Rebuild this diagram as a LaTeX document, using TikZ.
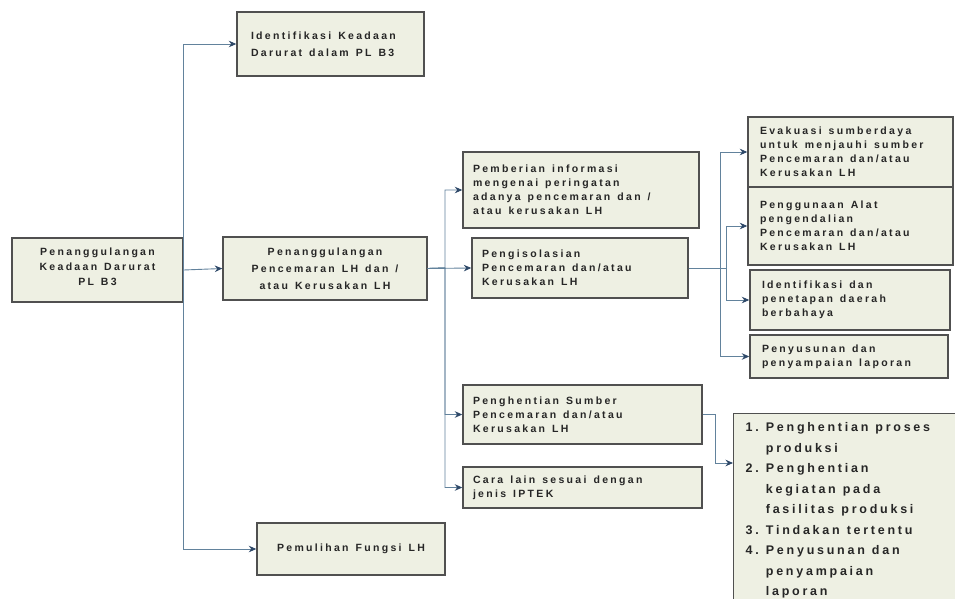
\documentclass[tikz,border=0pt]{standalone}
\usepackage{fontspec}
\setmainfont{Liberation Sans}
\newfontfamily\hurufkotak[LetterSpace=22]{Liberation Sans}
\newfontfamily\hurufdaftar[LetterSpace=22]{Liberation Sans}
\usetikzlibrary{arrows.meta}
\definecolor{isikotak}{HTML}{EEF0E3}
\definecolor{garikotak}{HTML}{505050}
\definecolor{garipanah}{HTML}{62829C}
\definecolor{ujungpanah}{HTML}{2E4868}
\tikzset{
  kotak/.style={draw=garikotak, line width=1.4pt, fill=isikotak, inner ysep=0pt,
    text=black!85, font=\hurufkotak\bfseries\fontsize{10.5}{14}\selectfont,
    execute at begin node={\spaceskip=7pt plus 2pt\relax}},
  panah/.style={draw=garipanah, line width=0.9pt,
    -{Stealth[length=7.5pt,width=6.5pt,color=ujungpanah]}}
}
\begin{document}
\begin{tikzpicture}[x=1pt,y=-1pt]
	    \fill[white] (0,0) rectangle (955,599);
	    \useasboundingbox (0,0) rectangle (955,599);
	    \node[kotak, minimum width=171pt, minimum height=64pt, align=center, font=\hurufkotak\bfseries\fontsize{10.5}{15}\selectfont] (keadaan) at (97.5,270)
	      {Penanggulangan\\Keadaan Darurat\\PL B3\vspace{6pt}};
	    \node[kotak, minimum height=64pt, inner xsep=14pt, text width=159pt, align=left, font=\hurufkotak\bfseries\fontsize{10.5}{17}\selectfont] (identif) at (330.5,44)
	      {Identifikasi Keadaan\\Darurat dalam PL B3};
	    \node[kotak, minimum width=204pt, minimum height=63pt, align=center, font=\hurufkotak\bfseries\fontsize{10.5}{17}\selectfont] (tanggap) at (325,268.5)
	      {Penanggulangan\\Pencemaran LH dan /\\atau Kerusakan LH};
	    \node[kotak, minimum height=76pt, inner xsep=10pt, text width=216pt, align=left] (informasi) at (581,190)
	      {Pemberian informasi\\mengenai peringatan\\adanya pencemaran dan /\\atau kerusakan LH};
	    \node[kotak, minimum height=60pt, inner xsep=10pt, text width=196pt, align=left] (isolasi) at (580,268)
	      {Pengisolasian\\Pencemaran dan/atau\\Kerusakan LH};
	    \node[kotak, minimum height=70pt, inner xsep=12pt, text width=181pt, align=left] (evakuasi) at (850.5,152)
	      {Evakuasi sumberdaya\\untuk menjauhi sumber\\Pencemaran dan/atau\\Kerusakan LH};
	    \node[kotak, minimum height=78pt, inner xsep=12pt, text width=181pt, align=left] (alat) at (850.5,226)
	      {Penggunaan Alat\\pengendalian\\Pencemaran dan/atau\\Kerusakan LH};
	    \node[kotak, minimum height=60pt, inner xsep=12pt, text width=176pt, align=left] (bahaya) at (850,300)
	      {Identifikasi dan\\penetapan daerah\\berbahaya};
	    \node[kotak, minimum height=43pt, inner xsep=12pt, text width=174pt, align=left] (laporan) at (849,356.5)
	      {Penyusunan dan\\penyampaian laporan};
	    \node[kotak, minimum height=59pt, inner xsep=10pt, text width=219pt, align=left] (henti) at (582.5,414.5)
	      {Penghentian Sumber\\Pencemaran dan/atau\\Kerusakan LH};
	    \node[kotak, minimum height=41pt, inner xsep=10pt, text width=219pt, align=left] (cara) at (582.5,487.5)
	      {Cara lain sesuai dengan\\jenis IPTEK};
	    \node[kotak, anchor=north west, inner xsep=12pt, inner ysep=9pt, text width=200pt, align=left, font=\hurufdaftar\bfseries\fontsize{12.5}{20.5}\selectfont] (daftar) at (733,413)
	      {1.~Penghentian proses\\\phantom{1.~}produksi\\2.~Penghentian\\\phantom{2.~}kegiatan pada\\\phantom{2.~}fasilitas produksi\\3.~Tindakan tertentu\\4.~Penyusunan dan\\\phantom{4.~}penyampaian\\\phantom{4.~}laporan};
	    \node[kotak, minimum width=188pt, minimum height=52pt, align=center] (pulih) at (351,549)
	      {Pemulihan Fungsi LH};
	    \coordinate (c2) at (445,268);
	    \coordinate (c3a) at (720,268);
	    \coordinate (c3b) at (726,268);
	    \coordinate (masuk) at (733,463);
	    \draw[panah] (keadaan.east) -- (tanggap.west);
	    \draw[panah] (keadaan.east) |- (identif.west);
	    \draw[panah] (keadaan.east) |- (pulih.west);
	    \draw[panah] (tanggap.east) -- (isolasi.west);
	    \draw[panah] (tanggap.east) -- (c2) |- (informasi.west);
	    \draw[panah] (tanggap.east) -- (c2) |- (henti.west);
	    \draw[panah] (tanggap.east) -- (c2) |- (cara.west);
	    \draw[panah] (isolasi.east) -- (c3a) |- (evakuasi.west);
	    \draw[panah] (isolasi.east) -- (c3a) |- (laporan.west);
	    \draw[panah] (isolasi.east) -- (c3b) |- (alat.west);
	    \draw[panah] (isolasi.east) -- (c3b) |- (bahaya.west);
	    \draw[panah] (henti.east) -- ++(13,0) |- (masuk);
	\end{tikzpicture}
\end{document}
